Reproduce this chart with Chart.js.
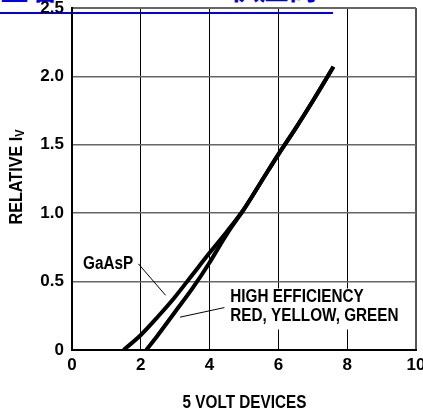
<!DOCTYPE html>
<html>
<head>
<meta charset="utf-8">
<script src="https://cdn.jsdelivr.net/npm/chart.js@4/dist/chart.umd.min.js"></script>
<style>
  html, body { margin: 0; padding: 0; background: #fff; overflow: hidden; }
  #wrap { position: relative; width: 423px; height: 417px; }
  #link { position: absolute; left: 0; top: -24px; width: 333px; height: 36px;
          border-bottom: 2px solid #0000ee; color: #0000ee; white-space: nowrap;
          font: bold 29px "Liberation Sans", "Noto Sans CJK SC", sans-serif; line-height: 29px; overflow: hidden; }
  canvas { position: absolute; left: 0; top: 0; }
</style>
</head>
<body>
<div id="wrap">
  <div id="link">查看 HLMP-3600 供应商</div>
  <canvas id="c" width="423" height="417"></canvas>
</div>
<script>
// ---- data ----
const xTicks = [0, 2, 4, 6, 8, 10];
const yTicks = [0, 0.5, 1.0, 1.5, 2.0, 2.5];
const gaAsPX = [1.5, 2, 2.5, 3, 3.5, 4, 4.5, 5, 5.5, 6, 6.5, 7, 7.6];
const gaAsPY = [0, 0.11, 0.245, 0.39, 0.55, 0.71, 0.865, 1.03, 1.23, 1.43, 1.62, 1.82, 2.07];
const heX = [2.16, 2.5, 3, 3.5, 4, 4.3, 4.6, 5, 5.5, 6, 6.5, 7, 7.6];
const heY = [0, 0.11, 0.28, 0.45, 0.64, 0.765, 0.885, 1.03, 1.23, 1.43, 1.62, 1.82, 2.07];
const seriesNames = ['GaAsP', 'HIGH EFFICIENCY RED, YELLOW, GREEN'];
const heLines = ['HIGH EFFICIENCY', 'RED, YELLOW, GREEN'];
const xTitle = '5 VOLT DEVICES';
const yTitle = 'RELATIVE I';
const yTitleSub = 'V';

const FONT = '"Liberation Sans", Arial, sans-serif';
const toPts = (xs, ys) => xs.map((x, i) => ({x: x, y: ys[i]}));

function drawText(ctx, text, x, y, size, sx, align) {
  ctx.save();
  ctx.font = 'bold ' + size + 'px ' + FONT;
  ctx.textBaseline = 'middle';
  ctx.textAlign = align || 'left';
  ctx.translate(x, y);
  ctx.scale(sx, 1);
  ctx.fillText(text, 0, 0);
  ctx.restore();
}

const labelsPlugin = {
  id: 'labels',
  beforeDatasetsDraw(chart) {
    const ctx = chart.ctx;
    const xs = chart.scales.x, ys = chart.scales.y;
    const px = v => xs.getPixelForValue(v), py = v => ys.getPixelForValue(v);
    ctx.save();
    // white box behind HE label
    ctx.fillStyle = '#fff';
    ctx.fillRect(px(4.55), py(0.45), px(9.55) - px(4.55), py(0.15) - py(0.45));
    ctx.fillStyle = '#000';
    drawText(ctx, heLines[0], px(4.6), py(0.39), 18, 0.85);
    drawText(ctx, heLines[1], px(4.6), py(0.245), 18, 0.85);
    drawText(ctx, seriesNames[0], px(0.32), py(0.625), 18, 0.85);
    // leader lines
    ctx.strokeStyle = '#000';
    ctx.lineWidth = 1;
    ctx.beginPath();
    ctx.moveTo(px(1.93), py(0.63)); ctx.lineTo(px(2.72), py(0.40));
    ctx.moveTo(px(4.43), py(0.31)); ctx.lineTo(px(3.14), py(0.24));
    ctx.stroke();
    ctx.restore();
  },
  afterDraw(chart) {
    const ctx = chart.ctx;
    const a = chart.chartArea;
    ctx.save();
    ctx.fillStyle = '#000';
    drawText(ctx, xTitle, (a.left + a.right) / 2 + 0.5, 403, 18, 0.85, 'center');
    // y title rotated with subscript
    ctx.translate(17, 177);
    ctx.rotate(-Math.PI / 2);
    ctx.scale(0.9, 1);
    ctx.textBaseline = 'middle';
    ctx.font = 'bold 18px ' + FONT;
    const w1 = ctx.measureText(yTitle).width;
    ctx.font = 'bold 12px ' + FONT;
    const w2 = ctx.measureText(yTitleSub).width;
    const start = -(w1 + w2) / 2;
    ctx.textAlign = 'left';
    ctx.font = 'bold 18px ' + FONT;
    ctx.fillText(yTitle, start, 0);
    ctx.font = 'bold 12px ' + FONT;
    ctx.fillText(yTitleSub, start + w1, 4);
    ctx.restore();
  }
};

new Chart(document.getElementById('c'), {
  type: 'scatter',
  data: {
    datasets: [
      { label: seriesNames[0], data: toPts(gaAsPX, gaAsPY), showLine: true,
        borderColor: '#000', borderWidth: 4, pointRadius: 0, cubicInterpolationMode: 'monotone', borderCapStyle: 'butt' },
      { label: seriesNames[1], data: toPts(heX, heY), showLine: true,
        borderColor: '#000', borderWidth: 4, pointRadius: 0, cubicInterpolationMode: 'monotone', borderCapStyle: 'butt' }
    ]
  },
  options: {
    responsive: false,
    animation: false,
    layout: { padding: { left: 0, right: 7, top: 8, bottom: 0 } },
    plugins: { legend: { display: false }, tooltip: { enabled: false } },
    scales: {
      x: {
        type: 'linear', min: 0, max: 10,
        afterBuildTicks: s => { s.ticks = xTicks.map(v => ({value: v})); },
        afterFit: s => { s.height = 67; s.paddingLeft = 0; s.paddingRight = 0; },
        ticks: { color: '#000', font: { family: FONT, size: 17, weight: 'bold' }, padding: 5, maxRotation: 0 },
        grid: {
          drawTicks: false,
          color: c => (c.tick && c.tick.value === 10) ? '#555' : '#000',
          lineWidth: c => (c.tick && c.tick.value === 10) ? 2 : 1
        },
        border: { color: '#000', width: 2 }
      },
      y: {
        type: 'linear', min: 0, max: 2.5,
        afterBuildTicks: s => { s.ticks = yTicks.map(v => ({value: v})); },
        afterFit: s => { s.width = 72; s.paddingTop = 0; s.paddingBottom = 0; },
        ticks: { color: '#000', font: { family: FONT, size: 17, weight: 'bold' }, padding: 8,
                 callback: v => v === 0 ? '0' : v.toFixed(1) },
        grid: {
          drawTicks: false,
          color: '#666',
          lineWidth: c => (c.tick && c.tick.value === 2.5) ? 2 : 1.5
        },
        border: { color: '#000', width: 2 }
      }
    }
  },
  plugins: [labelsPlugin]
});
</script>
</body>
</html>
